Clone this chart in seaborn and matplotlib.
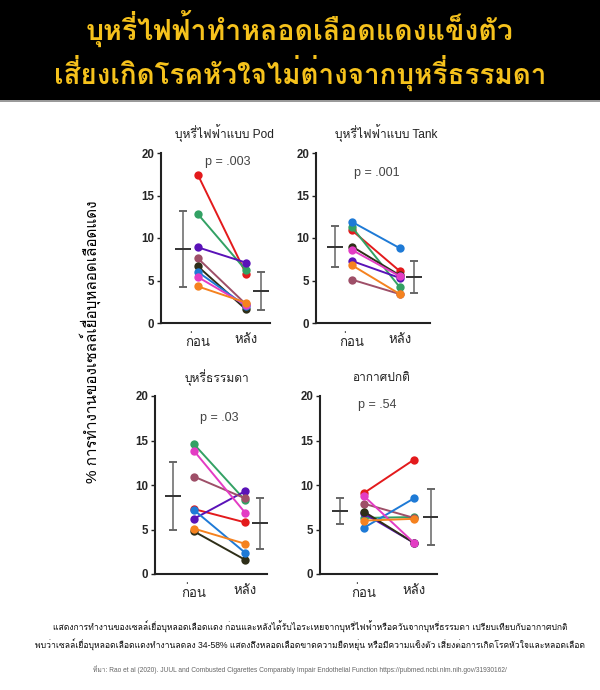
import matplotlib
matplotlib.use("Agg")
import matplotlib.pyplot as plt
import seaborn as sns
import numpy as np
import pandas as pd
from matplotlib import font_manager, ft2font
from matplotlib.patches import Rectangle

sns.set_style("white")


def find_thai_families():
    # pick any installed family that actually has Thai glyphs
    names = []
    for f in font_manager.fontManager.ttflist:
        try:
            cmap = ft2font.FT2Font(f.fname).get_charmap()
        except Exception:
            continue
        if 0x0E01 in cmap and f.name not in names:
            names.append(f.name)
    return names


THAI = find_thai_families()
plt.rcParams['font.family'] = ['Liberation Sans'] + THAI + ['DejaVu Sans']

# ---- data ----
subjects = ['red', 'green', 'purple', 'mauve', 'black', 'blue', 'pink', 'orange']
subject_colors = {
    'red': '#E31A1C', 'green': '#33A164', 'purple': '#5A12B8', 'mauve': '#9E4F68',
    'black': '#2E2E18', 'blue': '#1E7AD6', 'pink': '#E33CC4', 'orange': '#F5821F',
}
time_labels = ['ก่อน', 'หลัง']

panel_titles = ['บุหรี่ไฟฟ้าแบบ Pod', 'บุหรี่ไฟฟ้าแบบ Tank', 'บุหรี่ธรรมดา', 'อากาศปกติ']
p_labels = ['p = .003', 'p = .001', 'p = .03', 'p = .54']

pod_before = [17.4, 12.8, 8.9, 7.6, 6.65, 6.0, 5.4, 4.3]
pod_after = [5.8, 6.2, 7.1, 2.2, 1.6, 2.0, 2.1, 2.4]
tank_before = [10.9, 11.3, 7.3, 5.1, 9.0, 11.9, 8.6, 6.8]
tank_after = [6.1, 4.2, 5.3, 3.4, 5.6, 8.8, 5.5, 3.4]
cig_before = [7.3, 14.6, 6.2, 10.95, 4.8, 7.2, 13.85, 5.1]
cig_after = [5.8, 8.3, 9.3, 8.5, 1.6, 2.4, 6.9, 3.4]
air_before = [9.1, 6.3, 6.8, 7.9, 7.0, 5.2, 8.75, 6.0]
air_after = [12.85, 6.4, 3.5, 6.3, 3.5, 8.5, 3.5, 6.2]

# group mean and SD (before, after)
pod_mean, pod_sd = [8.7, 3.75], [4.45, 2.25]
tank_mean, tank_sd = [9.0, 5.4], [2.4, 1.9]
cig_mean, cig_sd = [8.75, 5.7], [3.8, 2.85]
air_mean, air_sd = [7.05, 6.4], [1.45, 3.1]

panels = [
    (pod_before, pod_after, pod_mean, pod_sd),
    (tank_before, tank_after, tank_mean, tank_sd),
    (cig_before, cig_after, cig_mean, cig_sd),
    (air_before, air_after, air_mean, air_sd),
]

# ---- layout ----
W, H = 600, 690
fig = plt.figure(figsize=(W / 100, H / 100), dpi=100)
fig.patch.set_facecolor('white')

# black header band
fig.patches.append(Rectangle((0, 1 - 100 / H), 1, 100 / H, transform=fig.transFigure,
                             facecolor='black', edgecolor='none', zorder=0))
fig.patches.append(Rectangle((0, 1 - 102 / H), 1, 2 / H, transform=fig.transFigure,
                             facecolor='#9a9a9a', edgecolor='none', zorder=0))
gold = '#F6C21C'
fig.text(0.5, 1 - 29 / H, 'บุหรี่ไฟฟ้าทำหลอดเลือดแดงแข็งตัว', ha='center', va='center',
         fontsize=20.5, fontweight='bold', color=gold)
fig.text(0.5, 1 - 73 / H, 'เสี่ยงเกิดโรคหัวใจไม่ต่างจากบุหรี่ธรรมดา', ha='center', va='center',
         fontsize=20, fontweight='bold', color=gold)

# axes boxes in pixels: left, right, top, bottom
boxes = [(161, 270, 153, 323), (316, 430, 153, 323),
         (155, 267, 396, 574), (320, 437, 396, 574)]
p_pos = [(0.63, 19.0), (0.52, 17.6), (0.5, 17.5), (0.26, 19.0)]
title_x = [224, 386, 217, 381]
title_y = [133, 133, 378, 378]
xlims = [(-0.77, 1.5), (-0.75, 1.63), (-0.76, 1.43), (-0.88, 1.46)]
err_x = [(-0.32, 1.31), (-0.35, 1.29), (-0.4, 1.3), (-0.48, 1.34)]

for i, (before, after, mean, sd) in enumerate(panels):
    l, r, t, b = boxes[i]
    ax = fig.add_axes([l / W, 1 - b / H, (r - l) / W, (b - t) / H])
    df = pd.DataFrame({
        'subject': subjects * 2,
        'time': [0] * len(subjects) + [1] * len(subjects),
        'value': list(before) + list(after),
    })
    sns.lineplot(data=df, x='time', y='value', hue='subject', palette=subject_colors,
                 estimator=None, sort=False, marker='o', markersize=6,
                 markeredgewidth=0, linewidth=1.4, legend=False, ax=ax)
    ax.errorbar(err_x[i], mean, yerr=sd, fmt='_', color='#555555', ecolor='#666666',
                elinewidth=1.1, capsize=2.8, capthick=1.1, markersize=11,
                markeredgewidth=1.4, mec='#333333')
    ax.set_xlim(*xlims[i])
    ax.set_ylim(0, 20)
    ax.set_yticks([0, 5, 10, 15, 20])
    ax.set_xticks([0, 1])
    ax.set_xticklabels(time_labels, fontsize=9.5)
    ax.set_xlabel('')
    ax.set_ylabel('')
    for lab in ax.get_yticklabels():
        lab.set_fontweight('bold')
        lab.set_fontsize(8.3)
    ax.tick_params(axis='y', length=3, width=1, color='#222222', pad=2, direction='out', left=True)
    ax.tick_params(axis='x', length=0, pad=8)
    sns.despine(ax=ax)
    for s in ('left', 'bottom'):
        ax.spines[s].set_linewidth(1.5)
        ax.spines[s].set_color('#222222')
    ax.set_facecolor('none')
    ax.text(p_pos[i][0], p_pos[i][1], p_labels[i], ha='center', va='center',
            fontsize=9, color='#444444')
    fig.text(title_x[i] / W, 1 - title_y[i] / H, panel_titles[i], ha='center', va='center',
             fontsize=8.6, color='#222222')

fig.text(90 / W, 1 - 342 / H, '% การทำงานของเซลล์เยื่อบุหลอดเลือดแดง', rotation=90,
         ha='center', va='center', fontsize=11, color='black')

fig.text(310 / W, 1 - 627 / H,
         'แสดงการทำงานของเซลล์เยื่อบุหลอดเลือดแดง ก่อนและหลังได้รับไอระเหยจากบุหรี่ไฟฟ้าหรือควันจากบุหรี่ธรรมดา เปรียบเทียบกับอากาศปกติ',
         ha='center', va='center', fontsize=6.2, color='#111111')
fig.text(310 / W, 1 - 645 / H,
         'พบว่าเซลล์เยื่อบุหลอดเลือดแดงทำงานลดลง 34-58% แสดงถึงหลอดเลือดขาดความยืดหยุ่น หรือมีความแข็งตัว เสี่ยงต่อการเกิดโรคหัวใจและหลอดเลือด',
         ha='center', va='center', fontsize=6.2, color='#111111')
fig.text(0.5, 1 - 670 / H,
         'ที่มา: Rao et al (2020). JUUL and Combusted Cigarettes Comparably Impair Endothelial Function https://pubmed.ncbi.nlm.nih.gov/31930162/',
         ha='center', va='center', fontsize=4.8, color='#666666')

fig.savefig('out.png', dpi=100)
plt.close(fig)
